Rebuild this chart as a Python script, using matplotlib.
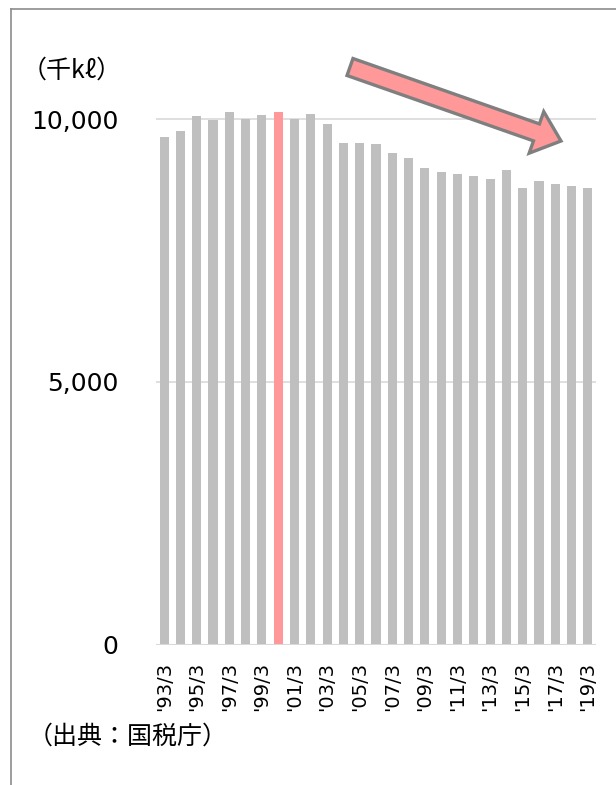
import numpy as np
import matplotlib
matplotlib.use('Agg')
import matplotlib.pyplot as plt
from matplotlib.patches import FancyArrow
from matplotlib.lines import Line2D

# yearly volume (thousand kl), fiscal years ending March
years = ["'93/3", "'94/3", "'95/3", "'96/3", "'97/3", "'98/3", "'99/3", "'00/3",
         "'01/3", "'02/3", "'03/3", "'04/3", "'05/3", "'06/3", "'07/3", "'08/3",
         "'09/3", "'10/3", "'11/3", "'12/3", "'13/3", "'14/3", "'15/3", "'16/3",
         "'17/3", "'18/3", "'19/3"]
volume = [9660, 9775, 10055, 9985, 10135, 9995, 10075, 10135,
          9995, 10090, 9905, 9545, 9540, 9530, 9345, 9250,
          9075, 8990, 8950, 8920, 8850, 9025, 8685, 8825,
          8760, 8735, 8685]
highlight = "'00/3"
yticks = [0, 5000, 10000]
ytick_labels = ['0', '5,000', '10,000']

W, H = 616, 785
fig = plt.figure(figsize=(W / 100, H / 100), dpi=100)

# axes placed in pixels: x 156..596, y=0 at 645, y=10000 at 119
px_per_unit = (645 - 119) / 10000
ymax = 12000
ax = fig.add_axes([156 / W, (H - 645) / H, 440 / W, ymax * px_per_unit / H])

x = np.arange(len(years))
colors = ['#FF9999' if y == highlight else '#BFBFBF' for y in years]
ax.bar(x, volume, width=0.56, color=colors, zorder=2)

ax.set_xlim(-0.5, len(years) - 0.5)
ax.set_ylim(0, ymax)
for s in ax.spines.values():
    s.set_visible(False)
for v in yticks:
    ax.axhline(v, color='#D9D9D9', lw=2.2 if v == 0 else 1.2, zorder=1 if v else 3)

ax.set_yticks(yticks)
ax.set_yticklabels(ytick_labels, fontsize=18, family='DejaVu Sans')
ax.tick_params(axis='y', length=0, pad=27)
ax.set_xticks(x[::2])
ax.set_xticklabels(years[::2], rotation=90, fontsize=14, family='DejaVu Sans')
ax.tick_params(axis='x', length=0, pad=12)

# unit and source
cjk = ['Noto Sans CJK JP', 'DejaVu Sans']
fig.text(122 / W, 1 - 71 / H, '（千kℓ）', ha='right', va='center', fontsize=18, family=cjk)
fig.text(28 / W, 1 - 737 / H, '（出典：国税庁）', ha='left', va='center', fontsize=18, family=cjk)

# downward trend arrow, in inches from bottom-left
tail = (350 / 100, (H - 67) / 100)
tip = (561 / 100, (H - 141) / 100)
fig.patches.append(FancyArrow(tail[0], tail[1], tip[0] - tail[0], tip[1] - tail[1],
                              width=0.18, head_width=0.44, head_length=0.26,
                              length_includes_head=True, fc='#FF9999', ec='#7F7F7F',
                              lw=2.4, transform=fig.dpi_scale_trans, zorder=5))

# frame lines on top and left
fig.add_artist(Line2D([10.5 / W, 1], [1 - 9 / H, 1 - 9 / H], color='#8C8C8C', lw=1.2,
                      transform=fig.transFigure))
fig.add_artist(Line2D([10.5 / W, 10.5 / W], [0, 1 - 9 / H], color='#8C8C8C', lw=1.2,
                      transform=fig.transFigure))

fig.savefig('out.png', dpi=100)
